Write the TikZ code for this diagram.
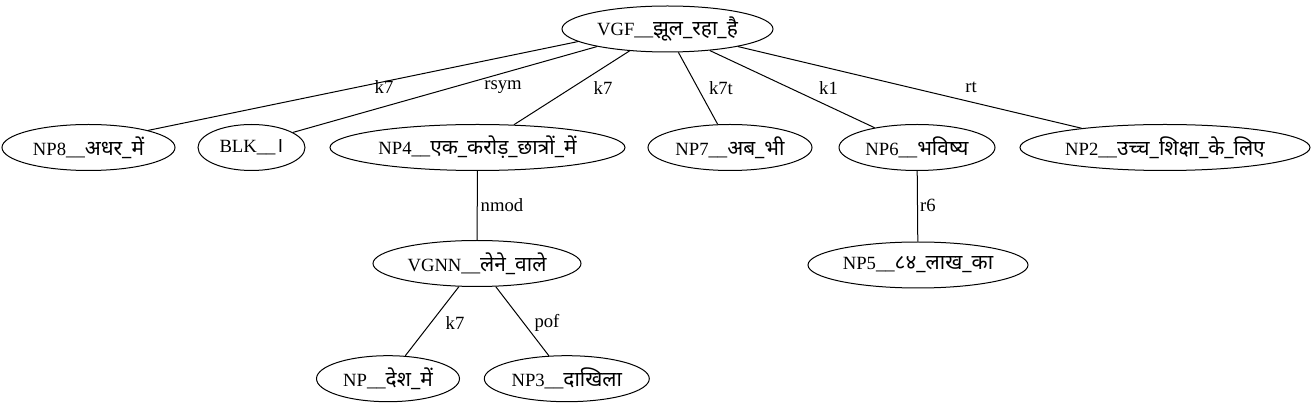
\documentclass[tikz,border=0pt]{standalone}
\usepackage{fontspec}
\setmainfont{Liberation Serif}
\newfontfamily\dev[Script=Devanagari,Scale=1.12]{Noto Sans}
\usetikzlibrary{shapes.geometric}
\begin{document}
\begin{tikzpicture}[x=1pt,y=-1pt,
  every node/.style={font=\fontsize{18.67}{21}\selectfont},
  nd/.style={draw,ellipse,line width=1pt,inner sep=0pt,minimum height=46pt},
  lbl/.style={inner sep=1pt},
  edge/.style={line width=1pt}]
\useasboundingbox (0,0) rectangle (1315,411);
\node[nd,minimum width=211pt] (vgf) at (667.5,29) {VGF\_\_{\dev झूल\_रहा\_है}};
\node[nd,minimum width=173pt] (np8) at (88.5,147.5) {NP8\_\_{\dev अधर\_में}};
\node[nd,minimum width=107pt] (blk) at (251.5,147.5) {BLK\_\_{\dev ।}};
\node[nd,minimum width=295pt] (np4) at (477.5,147.5) {NP4\_\_{\dev एक\_करोड़\_छात्रों\_में}};
\node[nd,minimum width=164pt] (np7) at (730,147.5) {NP7\_\_{\dev अब\_भी}};
\node[nd,minimum width=156pt] (np6) at (917,147.5) {NP6\_\_{\dev भविष्य}};
\node[nd,minimum width=290pt] (np2) at (1165,147.5) {NP2\_\_{\dev उच्च\_शिक्षा\_के\_लिए}};
\node[nd,minimum width=208pt] (vgnn) at (477,263.5) {VGNN\_\_{\dev लेने\_वाले}};
\node[nd,minimum width=220pt] (np5) at (918,265) {NP5\_\_{\dev ८४\_लाख\_का}};
\node[nd,minimum width=143pt] (np) at (388,378.7) {NP\_\_{\dev देश\_में}};
\node[nd,minimum width=165pt] (np3) at (566.8,378.7) {NP3\_\_{\dev दाखिला}};
\draw[edge] (vgf.188.8) -- (np8.16);
\draw[edge] (vgf.194.7) -- (blk.20);
\draw[edge] (vgf.210.9) -- (np4.32);
\draw[edge] (vgf.295.8) -- (np7.118);
\draw[edge] (vgf.333.9) -- (np6.155);
\draw[edge] (vgf.346.5) -- (np2.167);
\draw[edge] (np4) -- (vgnn);
\draw[edge] (np6) -- (np5);
\draw[edge] (vgnn.232) -- (np.53);
\draw[edge] (vgnn.309) -- (np3.128);
\node[lbl] (l1) at (384,87) {k7};
\node[lbl] (l2) at (503,87) {rsym};
\node[lbl] (l3) at (603,88) {k7};
\node[lbl] (l4) at (721,88) {k7t};
\node[lbl] (l5) at (828.5,88) {k1};
\node[lbl] (l6) at (971,87) {rt};
\node[lbl] (l7) at (502,205) {nmod};
\node[lbl] (l8) at (928,205) {r6};
\node[lbl] (l9) at (455,323) {k7};
\node[lbl] (l10) at (547,323) {pof};
\end{tikzpicture}
\end{document}
